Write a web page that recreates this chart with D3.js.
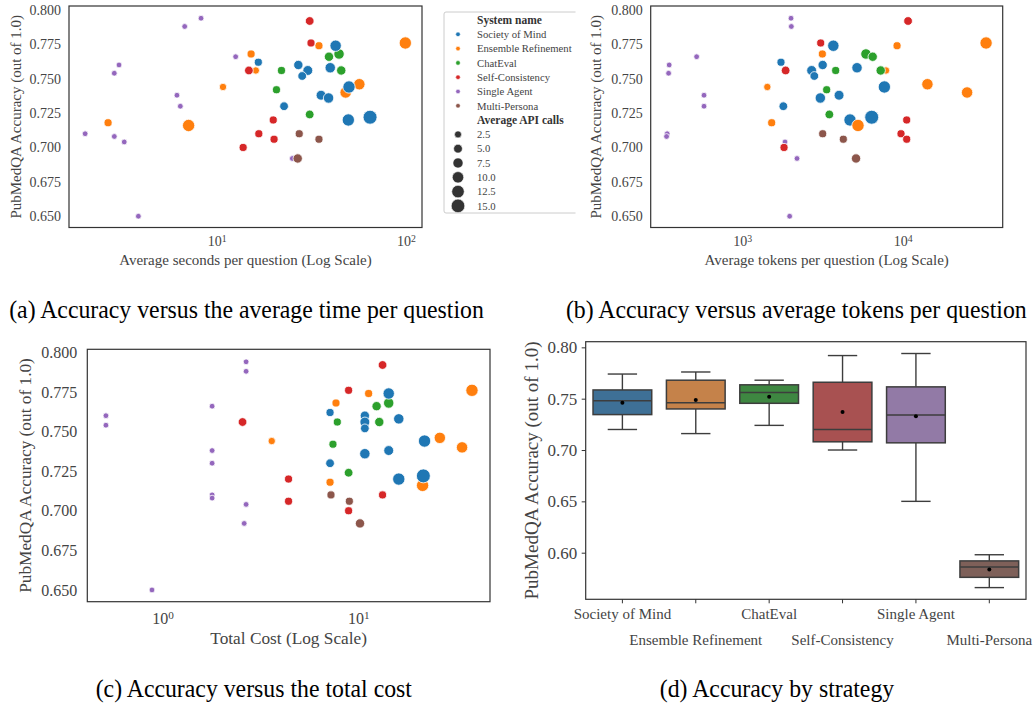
<!DOCTYPE html>
<html lang="en">
<head>
<meta charset="utf-8">
<title>PubMedQA accuracy versus cost</title>
<script src="https://d3js.org/d3.v7.min.js"></script>
<style>
  body { margin: 0; background: #fff; }
  svg text { font-family: "Liberation Serif", "Times New Roman", serif; }
  .caption { fill: #000; font-size: 26px; }
  .axis-label { fill: #444; }
</style>
</head>
<body>
<div id="vis"></div>
<script>
const systems = ["Society of Mind", "Ensemble Refinement", "ChatEval", "Self-Consistency", "Single Agent", "Multi-Persona"];
const colors = ["#1f77b4", "#ff7f0e", "#2ca02c", "#d62728", "#9467bd", "#8c564b"];
const boxColors = ["#3e7096", "#c5824a", "#3e8741", "#a85151", "#927aa6", "#7e6059"];
const sizeLegendValues = [2.5, 5.0, 7.5, 10.0, 12.5, 15.0];
const accTicks = [0.650, 0.675, 0.700, 0.725, 0.750, 0.775, 0.800];
const boxAccTicks = [0.60, 0.65, 0.70, 0.75, 0.80];

// one entry per run, in drawing order
const pointSystem = [4,4,4,4,4,4,4,4,4,4,4,4, 1,1,1,1,1,1,1,1, 0, 1, 3,3,3,3,3,3,3, 5,5,5, 2,2,2,2,2,2, 0,0,0,0,0,0,0,0,0,0,0];
const accuracy = [0.794,0.788,0.766,0.760,0.754,0.738,0.730,0.710,0.708,0.704,0.692,0.650,
                  0.776,0.774,0.768,0.756,0.744,0.746,0.740,0.718,
                  0.720, 0.716,
                  0.792,0.776,0.756,0.720,0.710,0.706,0.700,
                  0.710,0.706,0.692,
                  0.768,0.766,0.756,0.756,0.742,0.724,
                  0.774,0.762,0.760,0.756,0.752,0.758,0.744,0.738,0.736,0.730,0.722];
const avgSeconds = [8.27,6.78,12.6,3.05,2.88,6.17,6.43,2.02,2.88,3.25,25.1,3.86,
                    99.2,34.7,15.2,16.1,10.8,56.7,48.0,2.67,
                    49.6, 7.11,
                    31.0,31.5,14.8,19.9,16.7,20.1,13.8,
                    27.3,34.7,26.8,
                    44.3,39.2,45.5,22.0,20.7,31.0,
                    42.5,16.6,27.0,30.3,28.3,39.8,50.0,35.6,39.0,22.7,64.6];
const avgTokens = [2012,2021,519,350,347,577,577,340,337,1846,2193,1973,
                   33100,9220,3155,7870,1432,14260,25200,1524,
                   4694, 5264,
                   10800,3081,1862,10590,9760,10590,1820,
                   3170,4264,5117,
                   5900,6500,7290,3820,3357,3488,
                   3694,1742,3170,2705,2811,5190,7686,4010,3065,1802,6408];
const totalCost = [2.67,2.67,1.79,0.513,0.513,1.79,1.79,1.79,1.79,2.67,2.61,0.882,
                   38.1,11.29,7.69,10.8,3.61,26.1,33.9,7.17,
                   16.1, 21.3,
                   13.3,8.92,2.56,4.40,13.3,4.40,8.92,
                   7.25,9.0,10.2,
                   14.3,12.4,12.8,7.81,7.42,8.92,
                   14.3,7.17,10.8,10.8,10.8,16.1,21.8,14.3,10.8,7.17,21.5];
const apiCalls = [1,1,1,1,1,1,1,1,1,1,1,1,
                  12,4,4,3,3,10,10,4,
                  12, 12,
                  5,4,5,4,4,4,4,
                  4,4,6,
                  8,6,6,4,4,5,
                  10,4,6,7,5,8,12,7,8,5,16];
// Multi-Persona runs used in the strategy panel
const personaStrategyAcc = [0.566, 0.576, 0.586, 0.592, 0.598];

const width = 1034, height = 710;
const serif = '"Liberation Serif", "Times New Roman", serif';

const svg = d3.select("#vis").append("svg")
    .attr("width", width).attr("height", height);

const points = accuracy.map((a, i) => ({
    sys: pointSystem[i], acc: a, sec: avgSeconds[i], tok: avgTokens[i],
    cost: totalCost[i], calls: apiCalls[i]
}));

// marker area grows linearly with the number of calls
const area = d3.scaleLinear().domain([1, 16]).range([8.2, 48.7]);
const radius = v => Math.sqrt(area(v));

const panels = [
    {field: "sec", left: 69, right: 422, top: 6, bottom: 227.5,
     xDomain: [1.66, 121.5], yDomain: [0.6418, 0.8029], xTicks: [10, 100],
     tick: 14, lab: 15, xPad: 9, yPad: 8, xLabY: 265, yLabX: 20.5,
     xLabel: "Average seconds per question (Log Scale)"},
    {field: "tok", left: 650.7, right: 1002.7, top: 6, bottom: 227.5,
     xDomain: [268.4, 42020], yDomain: [0.6418, 0.8029], xTicks: [1000, 10000],
     tick: 14, lab: 15, xPad: 9, yPad: 8, xLabY: 265, yLabX: 600.5,
     xLabel: "Average tokens per question (Log Scale)"},
    {field: "cost", left: 87.3, right: 490, top: 349.3, bottom: 601.7,
     xDomain: [0.412, 47.1], yDomain: [0.6426, 0.8019], xTicks: [1, 10],
     tick: 16, lab: 17.3, xPad: 11, yPad: 10, xLabY: 644, yLabX: 31,
     xLabel: "Total Cost (Log Scale)"}
];

panels.forEach(p => {
    const g = svg.append("g");
    const x = d3.scaleLog().domain(p.xDomain).range([p.left, p.right]);
    const y = d3.scaleLinear().domain(p.yDomain).range([p.bottom, p.top]);

    g.selectAll("circle")
        .data(points)
        .join("circle")
        .attr("cx", d => x(d[p.field]))
        .attr("cy", d => y(d.acc))
        .attr("r", d => radius(d.calls))
        .attr("fill", d => colors[d.sys])
        .attr("stroke", "#fff")
        .attr("stroke-width", 0.8);

    g.append("rect")
        .attr("x", p.left).attr("y", p.top)
        .attr("width", p.right - p.left).attr("height", p.bottom - p.top)
        .attr("fill", "none").attr("stroke", "#333").attr("stroke-width", 1.2);

    const xa = g.append("g")
        .attr("transform", "translate(0," + p.bottom + ")")
        .call(d3.axisBottom(x).tickValues(p.xTicks).tickSize(0).tickPadding(p.xPad))
        .attr("font-family", serif).attr("font-size", p.tick);
    xa.select(".domain").remove();
    xa.selectAll(".tick text").attr("fill", "#444").text(null).each(function (d) {
        const t = d3.select(this);
        t.append("tspan").text("10");
        t.append("tspan").attr("dy", "-0.45em").attr("font-size", p.tick * 0.7)
            .text(Math.round(Math.log10(d)));
    });

    const ya = g.append("g")
        .attr("transform", "translate(" + p.left + ",0)")
        .call(d3.axisLeft(y).tickValues(accTicks).tickFormat(d3.format(".3f"))
            .tickSize(0).tickPadding(p.yPad))
        .attr("font-family", serif).attr("font-size", p.tick);
    ya.select(".domain").remove();
    ya.selectAll(".tick text").attr("fill", "#444");

    g.append("text")
        .attr("class", "axis-label")
        .attr("x", (p.left + p.right) / 2).attr("y", p.xLabY)
        .attr("text-anchor", "middle").attr("font-size", p.lab)
        .text(p.xLabel);

    g.append("text")
        .attr("class", "axis-label")
        .attr("transform", "translate(" + p.yLabX + "," + (p.top + p.bottom) / 2 + ") rotate(-90)")
        .attr("text-anchor", "middle").attr("font-size", p.lab)
        .text("PubMedQA Accuracy (out of 1.0)");
});

// legend of panel (a), its right side cut off like the original crop
svg.append("clipPath").attr("id", "legclip")
    .append("rect").attr("x", 0).attr("y", 0).attr("width", 575.5).attr("height", 300);
const leg = svg.append("g").attr("clip-path", "url(#legclip)");
leg.append("rect")
    .attr("x", 444).attr("y", 12).attr("width", 160).attr("height", 201)
    .attr("rx", 2).attr("fill", "#fff").attr("stroke", "#ccc").attr("stroke-width", 1);

const legendRows = [{title: "System name"}]
    .concat(systems.map((s, i) => ({label: s, fill: colors[i], r: 2.3})))
    .concat([{title: "Average API calls"}])
    .concat(sizeLegendValues.map(v => ({label: v.toFixed(1), fill: "#333", r: radius(v)})));

legendRows.forEach((row, i) => {
    const yy = 20 + i * 14.3;
    if (row.title) {
        leg.append("text").attr("x", 477).attr("y", yy).attr("dy", "0.35em")
            .attr("font-size", 11.5).attr("font-weight", "bold").attr("fill", "#333")
            .text(row.title);
    } else {
        leg.append("circle").attr("cx", 458).attr("cy", yy).attr("r", row.r)
            .attr("fill", row.fill).attr("stroke", "#fff").attr("stroke-width", 0.6);
        leg.append("text").attr("x", 477).attr("y", yy).attr("dy", "0.35em")
            .attr("font-size", 10.7).attr("fill", "#444")
            .text(row.label);
    }
});

// panel (d): box plot by strategy
const bx = {left: 585.7, right: 1026, top: 341.7, bottom: 599.3};
const xb = d3.scaleBand().domain(systems).range([bx.left, bx.right]).padding(0);
const yb = d3.scaleLinear().domain([0.5546, 0.8055]).range([bx.bottom, bx.top]);
const gd = svg.append("g");
const boxW = xb.bandwidth() * 0.8;
const lineCol = "#3d3d3d";

systems.forEach((s, i) => {
    const vals = (i === 5 ? personaStrategyAcc : points.filter(d => d.sys === i).map(d => d.acc))
        .slice().sort(d3.ascending);
    const q1 = d3.quantile(vals, 0.25), med = d3.quantile(vals, 0.5), q3 = d3.quantile(vals, 0.75);
    const iqr = q3 - q1;
    const lo = d3.min(vals.filter(v => v >= q1 - 1.5 * iqr));
    const hi = d3.max(vals.filter(v => v <= q3 + 1.5 * iqr));
    const mean = d3.mean(vals);
    const cx = xb(s) + xb.bandwidth() / 2;

    gd.append("line").attr("x1", cx).attr("x2", cx).attr("y1", yb(q1)).attr("y2", yb(lo))
        .attr("stroke", lineCol).attr("stroke-width", 1.4);
    gd.append("line").attr("x1", cx).attr("x2", cx).attr("y1", yb(q3)).attr("y2", yb(hi))
        .attr("stroke", lineCol).attr("stroke-width", 1.4);
    [lo, hi].forEach(v => gd.append("line")
        .attr("x1", cx - boxW / 4).attr("x2", cx + boxW / 4).attr("y1", yb(v)).attr("y2", yb(v))
        .attr("stroke", lineCol).attr("stroke-width", 1.4));
    gd.append("rect")
        .attr("x", cx - boxW / 2).attr("y", yb(q3))
        .attr("width", boxW).attr("height", yb(q1) - yb(q3))
        .attr("fill", boxColors[i]).attr("stroke", lineCol).attr("stroke-width", 1.5);
    gd.append("line").attr("x1", cx - boxW / 2).attr("x2", cx + boxW / 2)
        .attr("y1", yb(med)).attr("y2", yb(med))
        .attr("stroke", lineCol).attr("stroke-width", 1.5);
    gd.append("circle").attr("cx", cx).attr("cy", yb(mean)).attr("r", 2).attr("fill", "#000");
});

gd.append("rect")
    .attr("x", bx.left).attr("y", bx.top)
    .attr("width", bx.right - bx.left).attr("height", bx.bottom - bx.top)
    .attr("fill", "none").attr("stroke", "#333").attr("stroke-width", 1.2);

const dya = gd.append("g")
    .attr("transform", "translate(" + bx.left + ",0)")
    .call(d3.axisLeft(yb).tickValues(boxAccTicks).tickFormat(d3.format(".2f")).tickSize(4).tickPadding(4.5))
    .attr("font-family", serif).attr("font-size", 17);
dya.select(".domain").remove();
dya.selectAll(".tick line").attr("stroke", "#333");
dya.selectAll(".tick text").attr("fill", "#444");

const dxa = gd.append("g")
    .attr("transform", "translate(0," + bx.bottom + ")")
    .call(d3.axisBottom(xb).tickSize(4).tickPadding(4.6))
    .attr("font-family", serif).attr("font-size", 15);
dxa.select(".domain").remove();
dxa.selectAll(".tick line").attr("stroke", "#333");
dxa.selectAll(".tick text").attr("fill", "#444").attr("y", (d, i) => i % 2 ? 34.6 : 8.6);

gd.append("text")
    .attr("class", "axis-label")
    .attr("transform", "translate(538," + (bx.top + bx.bottom) / 2 + ") rotate(-90)")
    .attr("text-anchor", "middle").attr("font-size", 19)
    .text("PubMedQA Accuracy (out of 1.0)");

// sub-figure captions (slightly condensed, as in the source figure)
const captions = [
    {x: 246.5, y: 318, t: "(a) Accuracy versus the average time per question"},
    {x: 796.3, y: 318, t: "(b) Accuracy versus average tokens per question"},
    {x: 253.8, y: 697, t: "(c) Accuracy versus the total cost"},
    {x: 777, y: 697, t: "(d) Accuracy by strategy"}
];
svg.selectAll(".caption")
    .data(captions)
    .join("text")
    .attr("class", "caption")
    .attr("transform", d => "translate(" + d.x + "," + d.y + ") scale(0.915,1)")
    .attr("text-anchor", "middle")
    .text(d => d.t);
</script>
</body>
</html>
